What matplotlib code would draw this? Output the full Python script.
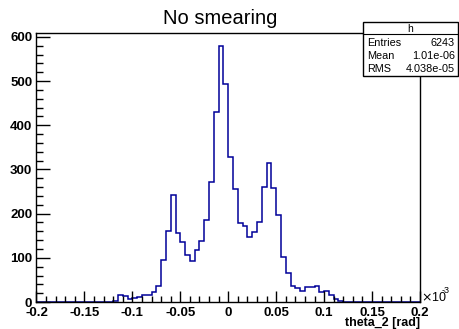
import numpy as np
import matplotlib
matplotlib.use("Agg")
import matplotlib.pyplot as plt
from matplotlib.ticker import MultipleLocator
from matplotlib.patches import Rectangle

# histogram of theta_2, 80 bins from -0.2 to 0.2 (x10^-3 rad)
bin_edges = np.linspace(-0.2, 0.2, 81)
counts = [0, 0, 0, 0, 0, 0, 0, 1, 0, 0,
          0, 0, 0, 1, 0, 1, 3, 17, 14, 7,
          10, 11, 15, 17, 23, 37, 96, 160, 242, 156,
          136, 106, 92, 117, 137, 186, 271, 429, 580, 493,
          329, 256, 179, 173, 148, 159, 182, 261, 314, 258,
          198, 102, 65, 37, 32, 25, 33, 35, 36, 22,
          26, 16, 6, 2, 1, 0, 1, 0, 0, 0,
          0, 0, 0, 0, 0, 0, 0, 0, 0, 0]

title = "No smearing"
xlabel = "theta_2 [rad]"
stat_names = ["Entries", "Mean", "RMS"]
stat_values = ["6243", "1.01e-06", "4.038e-05"]

plt.rcParams['font.family'] = ['Liberation Sans', 'DejaVu Sans']

fig = plt.figure(figsize=(4.59, 3.29), dpi=100)
ax = fig.add_axes([0.0795, 0.082, 0.8355, 0.818])

ax.stairs(counts, bin_edges, color='#000099', linewidth=1.1)

ax.set_xlim(-0.2, 0.2)
ax.set_ylim(0, 609)

ax.xaxis.set_major_locator(MultipleLocator(0.05))
ax.xaxis.set_minor_locator(MultipleLocator(0.01))
ax.yaxis.set_major_locator(MultipleLocator(100))
ax.yaxis.set_minor_locator(MultipleLocator(20))
ax.tick_params(which='both', direction='in', top=False, right=False, width=1)
ax.tick_params(which='major', axis='y', length=10)
ax.tick_params(which='minor', axis='y', length=5)
ax.tick_params(which='major', axis='x', length=8)
ax.tick_params(which='minor', axis='x', length=4)
ax.tick_params(labelsize=9.5)

ax.set_xticks(np.arange(-0.2, 0.2001, 0.05))
ax.set_xticklabels(['-0.2', '-0.15', '-0.1', '-0.05', '0', '0.05', '0.1', '0.15', '0.2'],
                   fontweight='bold')
for lab in ax.get_yticklabels():
    lab.set_fontweight('bold')
ax.tick_params(axis='x', pad=3.5)
ax.tick_params(axis='y', pad=3)

for s in ax.spines.values():
    s.set_linewidth(1.0)

fig.text(0.48, 0.943, title, ha='center', va='center', fontsize=14.5)
fig.text(0.915, 0.0, xlabel, ha='right', va='bottom', fontsize=9, fontweight='bold')
fig.text(0.918, 0.096, r'$\times$10', ha='left', va='center', fontsize=9)
fig.text(0.963, 0.118, '-3', ha='left', va='center', fontsize=6.5)

# stats box
bx0, bx1 = 363 / 459, 458 / 459
by0, by1 = 1 - 76 / 329, 1 - 22 / 329
fig.patches.append(Rectangle((bx0, by0), bx1 - bx0, by1 - by0, transform=fig.transFigure,
                             facecolor='white', edgecolor='black', linewidth=1.0, zorder=5))
hline_y = 1 - 34 / 329
fig.add_artist(plt.Line2D([bx0, bx1], [hline_y, hline_y], transform=fig.transFigure,
                          color='black', linewidth=0.8, zorder=6))
fig.text((bx0 + bx1) / 2, 1 - 28.5 / 329, 'h', ha='center', va='center', fontsize=7.5, zorder=7)
for k, (nm, val) in enumerate(zip(stat_names, stat_values)):
    yy = 1 - (43 + 13 * k) / 329
    fig.text(367 / 459, yy, nm, ha='left', va='center', fontsize=7.8, zorder=7)
    fig.text(455 / 459, yy, val, ha='right', va='center', fontsize=7.8, zorder=7)

fig.savefig('out.png', dpi=100)
